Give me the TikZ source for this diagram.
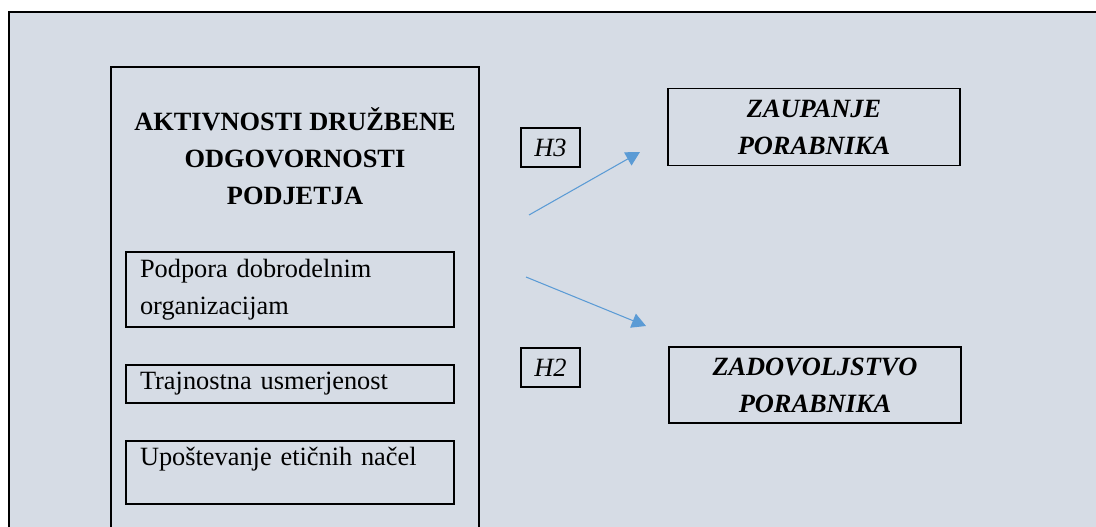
\documentclass[tikz,border=0pt]{standalone}
\usepackage{fontspec}
\setmainfont{Liberation Serif}
\usepackage{xcolor}
\usepackage{tikz}
\usetikzlibrary{arrows.meta}
\definecolor{panelcolor}{RGB}{214,220,229}
\definecolor{linkcolor}{RGB}{91,155,213}

\begin{document}
\begin{tikzpicture}[
    x=0.02cm, y=-0.02cm,
    frame/.style={draw, line width=1.1pt},
    group/.style={frame, minimum width=7.36cm, minimum height=10cm, inner sep=0pt},
    heading/.style={align=center, font=\bfseries\fontsize{15}{21}\selectfont},
    item/.style={frame, text width=6cm, inner xsep=0.28cm, inner ysep=0pt, align=left, font=\fontsize{15}{21}\selectfont},
    hyp/.style={frame, minimum width=1.18cm, minimum height=0.78cm, inner sep=0pt, font=\itshape\fontsize{15}{21}\selectfont},
    outcome/.style={frame, minimum width=5.84cm, inner sep=0pt, align=center, font=\bfseries\itshape\fontsize{15}{21}\selectfont},
    link/.style={-{Triangle[length=8pt, width=8.5pt]}, line width=0.6pt, color=linkcolor}
]
    \useasboundingbox (0,0) rectangle (1096,527);
    \clip (0,0) rectangle (1096,527);

    % Background panel
    \fill[panelcolor] (9,12) rectangle (1110,540);
    \draw[line width=1.1pt] (1110,12) -- (9,12) -- (9,540);

    % CSR activities
    \node[group, anchor=north] (csr) at (295,66) {};
    \node[heading] (title) at (295,156) {AKTIVNOSTI DRUŽBENE\\ODGOVORNOSTI\\PODJETJA};

    \node[item, anchor=north, minimum height=1.5cm] (charity) at (290,251) {Podpora dobrodelnim\\organizacijam};
    \node[item, anchor=north, minimum height=0.76cm] (sustain) at (290,364) {Trajnostna usmerjenost};
    \node[item, anchor=north, text height=14.2pt, text depth=21.5pt] (ethics) at (290,440) {Upoštevanje etičnih načel};

    % Hypotheses
    \node[hyp] (h3) at (550.5,147.5) {H3};
    \node[hyp] (h2) at (550.5,367.5) {H2};

    % Consumer outcomes
    \node[outcome, minimum height=1.54cm] (trust) at (814,127) {ZAUPANJE\\PORABNIKA};
    \node[outcome, minimum height=1.52cm] (satisfaction) at (815,385) {ZADOVOLJSTVO\\PORABNIKA};

    % Links
    \coordinate (h3start) at (529,215);
    \coordinate (h3end) at (640,152);
    \coordinate (h2start) at (526,277);
    \coordinate (h2end) at (646,326);

    \draw[link] (h3start) -- (h3end);
    \draw[link] (h2start) -- (h2end);
\end{tikzpicture}
\end{document}
